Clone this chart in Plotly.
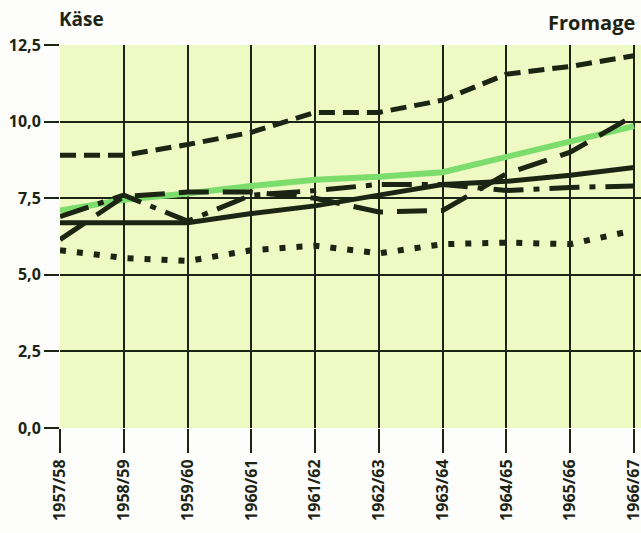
import plotly.graph_objects as go

seasons = ["1957/58", "1958/59", "1959/60", "1960/61", "1961/62",
           "1962/63", "1963/64", "1964/65", "1965/66", "1966/67"]

# values (kg per head)
top_dashed = [8.9, 8.9, 9.25, 9.65, 10.3, 10.3, 10.7, 11.55, 11.8, 12.15]
green_solid = [7.1, 7.45, 7.65, 7.9, 8.1, 8.2, 8.35, 8.85, 9.3, 9.85]
black_solid = [6.7, 6.7, 6.7, 7.0, 7.25, 7.6, 7.95, 8.05, 8.25, 8.5]
long_dash = [6.15, 7.55, 7.7, 7.7, 7.5, 7.05, 7.1, 8.3, 9.0, 10.2]
dash_dot = [6.9, 7.6, 6.75, 7.6, 7.75, 7.95, 7.95, 7.75, 7.85, 7.9]
dotted = [5.8, 5.55, 5.45, 5.8, 5.95, 5.7, 6.0, 6.05, 6.0, 6.45]

ink = "#1c2414"
x = list(range(len(seasons)))

fig = go.Figure()

fig.add_trace(go.Scatter(x=x, y=green_solid, mode="lines",
                         line=dict(color="#7cdc6c", width=6)))
fig.add_trace(go.Scatter(x=x, y=dotted, mode="lines",
                         line=dict(color=ink, width=6, dash="6px,11px")))
fig.add_trace(go.Scatter(x=x, y=black_solid, mode="lines",
                         line=dict(color=ink, width=5)))
fig.add_trace(go.Scatter(x=x, y=long_dash, mode="lines",
                         line=dict(color=ink, width=5, dash="30px,14px")))
fig.add_trace(go.Scatter(x=x, y=dash_dot, mode="lines",
                         line=dict(color=ink, width=5, dash="30px,10px,6px,10px")))
fig.add_trace(go.Scatter(x=x, y=top_dashed, mode="lines",
                         line=dict(color=ink, width=5, dash="16px,8px")))

fig.update_layout(
    width=641, height=533,
    margin=dict(l=60, r=0, t=45, b=105),
    paper_bgcolor="#fdfdfb",
    plot_bgcolor="#eff9c4",
    showlegend=False,
    separators=",.",
    font=dict(family="Open Sans, DejaVu Sans", size=15, color=ink),
    annotations=[
        dict(text="<b>Käse</b>", x=0, y=1, xref="paper", yref="paper",
             xanchor="left", yanchor="middle", yshift=26, xshift=-3,
             showarrow=False, font=dict(size=19)),
        dict(text="<b>Fromage</b>", x=1, y=1, xref="paper", yref="paper",
             xanchor="right", yanchor="middle", yshift=23, xshift=-4,
             showarrow=False, font=dict(size=20)),
    ],
)

fig.update_xaxes(
    tickvals=x, ticktext=seasons, tickangle=-90, automargin=False,
    ticklabeloverflow="allow",
    range=[0, 9.11], showgrid=True, gridcolor=ink, gridwidth=2,
    zeroline=False, showline=False,
    ticks="outside", ticklen=24, tickwidth=2, tickcolor=ink,
    tickfont=dict(size=16, family="Open Sans", color=ink, weight=700),
)
fig.update_yaxes(
    range=[0, 12.5], tickvals=[0, 2.5, 5, 7.5, 10, 12.5], tickformat=".1f",
    automargin=False,
    showgrid=True, gridcolor=ink, gridwidth=2,
    zeroline=False, showline=False,
    ticks="outside", ticklen=15, tickwidth=2, tickcolor=ink,
    tickfont=dict(size=16, family="Open Sans", color=ink, weight=700),
)

# drop the page's default body margin so the figure sits at the top-left corner
fig.write_html("out.html", config={"displayModeBar": False},
               post_script="document.body.style.margin='0';")
